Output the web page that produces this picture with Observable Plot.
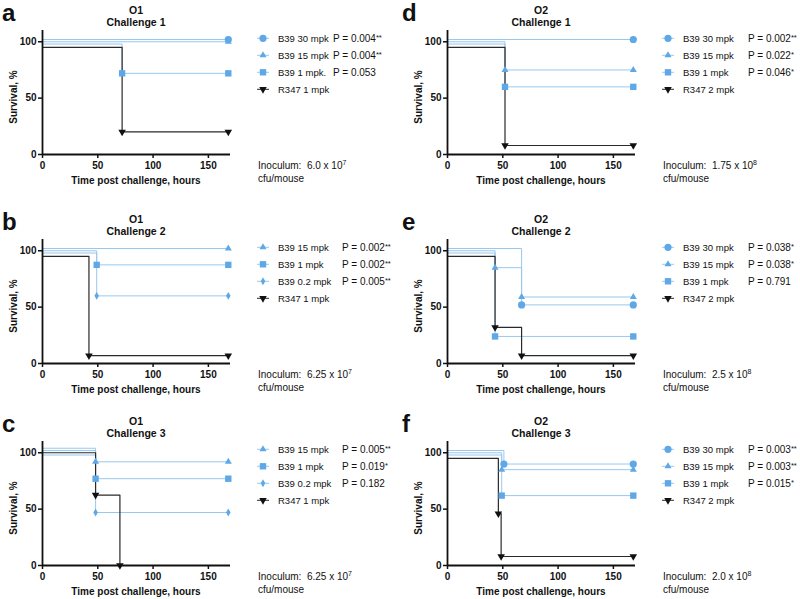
<!DOCTYPE html>
<html><head><meta charset="utf-8">
<script src="https://cdn.jsdelivr.net/npm/d3@7"></script>
<script src="https://cdn.jsdelivr.net/npm/@observablehq/plot@0.6"></script>
<style>
html,body{margin:0;padding:0;background:#fff;}
#root{position:relative;width:800px;height:599px;overflow:hidden;background:#fff;}
.panel{position:absolute;width:400px;}
.panel svg{overflow:visible;}
</style></head><body><div id="root"></div>
<script>
// ---------- data ----------
const letters = ["a","b","c","d","e","f"];
const strains = ["O1","O1","O1","O2","O2","O2"];
const challenges = ["Challenge 1","Challenge 2","Challenge 3","Challenge 1","Challenge 2","Challenge 3"];
const inoculumBase = ["6.0 x 10","6.25 x 10","6.25 x 10","1.75 x 10","2.5 x 10","2.0 x 10"];
const inoculumExp = ["7","7","7","8","8","8"];
const groupLabels = [
  ["B39 30 mpk","B39 15 mpk","B39 1 mpk.","R347 1 mpk"],
  ["B39 15 mpk","B39 1 mpk","B39 0.2 mpk","R347 1 mpk"],
  ["B39 15 mpk","B39 1 mpk","B39 0.2 mpk","R347 1 mpk"],
  ["B39 30 mpk","B39 15 mpk","B39 1 mpk","R347 2 mpk"],
  ["B39 30 mpk","B39 15 mpk","B39 1 mpk","R347 2 mpk"],
  ["B39 30 mpk","B39 15 mpk","B39 1 mpk","R347 2 mpk"]
];
const groupSymbols = [
  ["circle","triangle","square","down"],
  ["triangle","square","diamond","down"],
  ["triangle","square","diamond","down"],
  ["circle","triangle","square","down"],
  ["circle","triangle","square","down"],
  ["circle","triangle","square","down"]
];
const pValues = [
  ["0.004","0.004","0.053",""],
  ["0.002","0.002","0.005",""],
  ["0.005","0.019","0.182",""],
  ["0.002","0.022","0.046",""],
  ["0.038","0.038","0.791",""],
  ["0.003","0.003","0.015",""]
];
const pStars = [
  ["**","**","",""],
  ["**","**","**",""],
  ["**","*","",""],
  ["**","*","*",""],
  ["*","*","",""],
  ["**","**","*",""]
];
// survival curves: time (hours) and survival (%) per group
const timesA = [[0,168],[0,168],[0,72,168],[0,72,168]];
const survA  = [[102,102],[100,100],[98,72,72],[95,20,20]];
const timesB = [[0,168],[0,49,168],[0,49,168],[0,42,168]];
const survB  = [[102,102],[100,87.5,87.5],[98,60,60],[95,7,7]];
const timesC = [[0,48,168],[0,48,168],[0,48,168],[0,48,70]];
const survC  = [[104,92,92],[102,77,77],[98,47,47],[100,62.5,0]];
const timesD = [[0,168],[0,52,168],[0,52,168],[0,52,168]];
const survD  = [[102,102],[100,75,75],[98,60,60],[95,8,8]];
const timesE = [[0,67,168],[0,43,67,168],[0,43,168],[0,43,67,168]];
const survE  = [[102,52,52],[100,85,59,59],[98,24,24],[95,32,7,7]];
const timesF = [[0,51,168],[0,49,168],[0,49,168],[0,46,48.5,168]];
const survF  = [[102,90,90],[100,85,85],[98,62,62],[95,46,8,8]];
const xTicks = [0,50,100,150];
const yTicks = [0,50,100];

const panelTimes = [timesA,timesB,timesC,timesD,timesE,timesF];
const panelSurv = [survA,survB,survC,survD,survE,survF];

// ---------- layout / style ----------
const FONT = "'Liberation Sans', Arial, Helvetica, sans-serif";
const rowTops = [0, 209, 411];
const colLefts = [0, 400];
const pXs = [333, 342, 342, 348, 348, 348];
const BLUE_LINE = "#98c8ef", BLUE_MARK = "#5ea8e8", BLACK_LINE = "#2a2a2a", BLACK_MARK = "#111";
const s3 = Math.sqrt(3);
const triDown = {draw(ctx, size){ const y = -Math.sqrt(size/(s3*3)); ctx.moveTo(0,-y*2); ctx.lineTo(-s3*y, y); ctx.lineTo(s3*y, y); ctx.closePath(); }};
const symbolMap = {circle: d3.symbolCircle, triangle: d3.symbolTriangle, square: d3.symbolSquare, diamond: d3.symbolDiamond, down: triDown};
const rMap = {circle:3.6, triangle:2.6, square:3.6, diamond:2.4, down:2.8};
const LEG_FS = 9.5, P_FS = 10;

const root = document.getElementById("root");

for (let i = 0; i < 6; i++) {
  const col = Math.floor(i/3), row = i % 3;
  const shift = col * 5;
  const ml = 42 + shift;
  const W = 400, plotW = 188;
  const times = panelTimes[i], surv = panelSurv[i];
  const marks = [];
  times.forEach((ts, k) => {
    const pts = ts.map((t, j) => ({t, s: surv[k][j]}));
    const black = k === 3;
    marks.push(Plot.line(pts, {x: "t", y: "s", curve: "step-after", stroke: black ? BLACK_LINE : BLUE_LINE, strokeWidth: black ? 1.2 : 1}));
  });
  times.forEach((ts, k) => {
    const pts = ts.map((t, j) => ({t, s: surv[k][j]})).slice(1);
    const black = k === 3;
    const sym = groupSymbols[i][k];
    marks.push(Plot.dot(pts, {x: "t", y: "s", symbol: symbolMap[sym], r: rMap[sym], fill: black ? BLACK_MARK : BLUE_MARK}));
  });
  marks.push(
    Plot.ruleX([0], {stroke: "#111", strokeWidth: 1.8}),
    Plot.ruleY([0], {stroke: "#111", strokeWidth: 1.8}),
    Plot.axisX({ticks: xTicks, tickSize: 4, tickPadding: 3, strokeWidth: 1.5, label: null, tickFormat: d => d}),
    Plot.axisY({ticks: yTicks, tickSize: 4, tickPadding: 2, strokeWidth: 1.5, label: null, tickFormat: d => d})
  );
  const svg = Plot.plot({
    width: W, height: 190,
    marginLeft: ml, marginRight: W - ml - plotW, marginTop: 30, marginBottom: 36,
    x: {domain: [0, 170]}, y: {domain: [0, 110]},
    style: {fontFamily: FONT, fontSize: "10px", fontWeight: "bold", color: "#111", background: "transparent", overflow: "visible"},
    marks
  });
  const div = document.createElement("div");
  div.className = "panel";
  div.style.left = colLefts[col] + "px";
  div.style.top = rowTops[row] + "px";
  div.appendChild(svg);
  root.appendChild(div);

  const g = d3.select(svg).append("g").attr("font-family", FONT).attr("fill", "#111").attr("text-anchor", "start");
  const cx = ml + plotW/2;
  // panel letter
  g.append("text").attr("x", 2).attr("y", 21).attr("font-size", 24).attr("font-weight", "bold").attr("text-anchor", "start").text(letters[i]);
  // titles
  g.append("text").attr("x", cx).attr("y", 10).attr("dy", "0.35em").attr("text-anchor", "middle").attr("font-size", 10.5).attr("font-weight", "bold").text(strains[i]);
  g.append("text").attr("x", cx).attr("y", 22.5).attr("dy", "0.35em").attr("text-anchor", "middle").attr("font-size", 10.5).attr("font-weight", "bold").text(challenges[i]);
  // axis titles
  g.append("text").attr("transform", `translate(${13 + shift},97) rotate(-90)`).attr("dy", "0.35em").attr("text-anchor", "middle").attr("font-size", 10).attr("font-weight", "bold").text("Survival, %");
  g.append("text").attr("x", cx).attr("y", 180).attr("dy", "0.35em").attr("text-anchor", "middle").attr("font-size", 10).attr("font-weight", "bold").text("Time post challenge, hours");
  // legend
  const mx = 263 + shift, tx = 278 + shift;
  groupLabels[i].forEach((lab, k) => {
    const y = 38.3 + k * 17;
    const black = k === 3;
    const sym = groupSymbols[i][k];
    g.append("line").attr("x1", mx - 6).attr("x2", mx + 6).attr("y1", y).attr("y2", y).attr("stroke", black ? BLACK_LINE : BLUE_LINE).attr("stroke-width", 1);
    g.append("path").attr("d", d3.symbol(symbolMap[sym], Math.PI * rMap[sym] * rMap[sym])()).attr("transform", `translate(${mx},${y})`).attr("fill", black ? BLACK_MARK : BLUE_MARK);
    g.append("text").attr("x", tx).attr("y", y).attr("dy", "0.35em").attr("font-size", LEG_FS).attr("font-weight", "normal").attr("text-anchor", "start").text(lab);
    if (pValues[i][k]) {
      const t = g.append("text").attr("x", pXs[i]).attr("y", y).attr("dy", "0.35em").attr("font-size", P_FS).attr("font-weight", "normal").attr("text-anchor", "start");
      t.append("tspan").text("P = " + pValues[i][k]);
      if (pStars[i][k]) t.append("tspan").attr("dy", "-2").attr("font-size", 7.5).text(pStars[i][k]);
    }
  });
  // inoculum
  const ix = 258 + shift;
  const t1 = g.append("text").attr("x", ix).attr("y", 168.5).attr("font-size", P_FS).attr("font-weight", "normal").attr("text-anchor", "start");
  t1.append("tspan").text("Inoculum:  " + inoculumBase[i]);
  t1.append("tspan").attr("dy", "-4").attr("font-size", 7).text(inoculumExp[i]);
  g.append("text").attr("x", ix).attr("y", 181.5).attr("font-size", P_FS).attr("font-weight", "normal").attr("text-anchor", "start").text("cfu/mouse");
}
</script></body></html>
